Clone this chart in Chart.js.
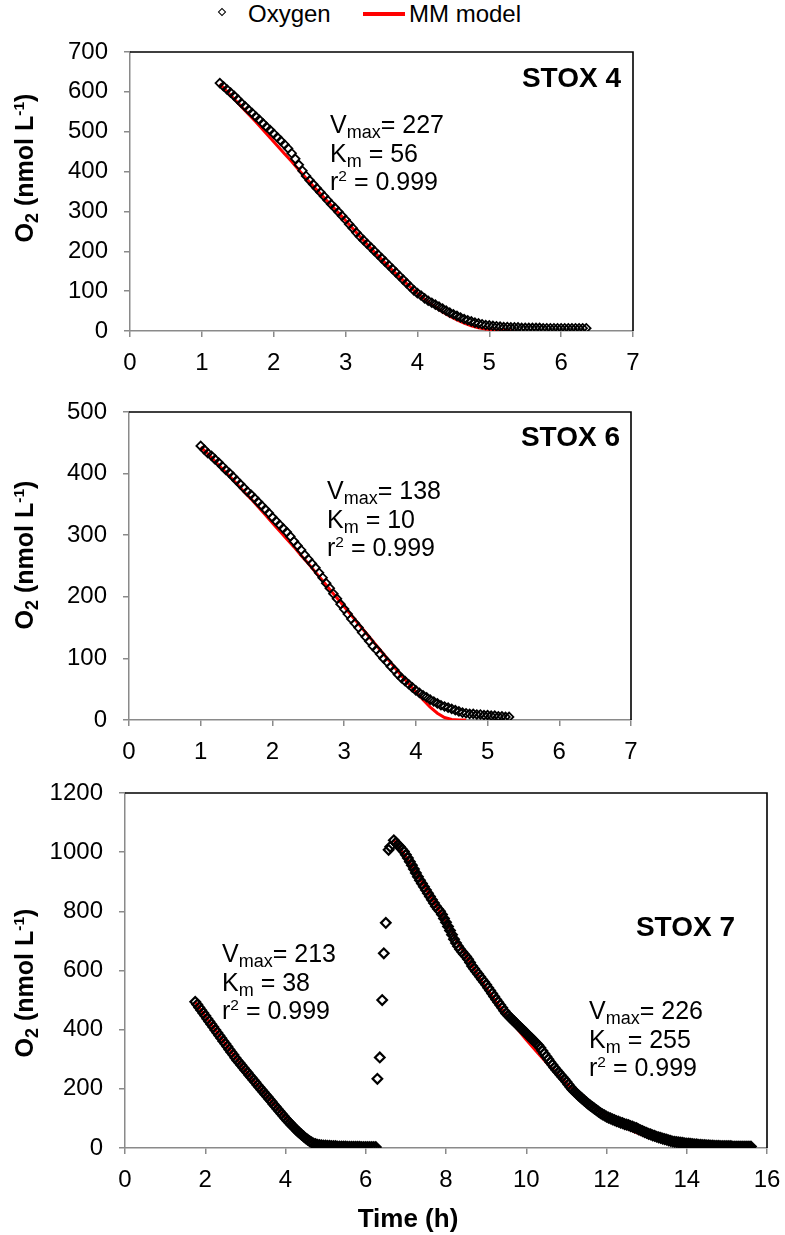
<!DOCTYPE html>
<html>
<head>
<meta charset="utf-8">
<title>STOX oxygen consumption</title>
<script src="https://cdn.jsdelivr.net/npm/chart.js@4.4.1/dist/chart.umd.min.js"></script>
<style>
  html, body { margin: 0; padding: 0; background: #fff; }
  #page { position: relative; width: 785px; height: 1235px; overflow: hidden;
          font-family: 'Liberation Sans', Arial, sans-serif; color: #000; }
  canvas { position: absolute; left: 0; }
  .txt { position: absolute; white-space: nowrap; }
  .ann { font-size: 25px; line-height: 28.5px; }
  .ann sub, .ytitle sub { font-size: .72em; vertical-align: baseline; position: relative; top: .3em; line-height: 0; }
  .ann sup, .ytitle sup { font-size: .62em; vertical-align: baseline; position: relative; top: -.55em; line-height: 0; }
  .stox { font-size: 28px; font-weight: bold; line-height: 32px; text-align: right; }
  .ytitle { font-size: 25px; font-weight: bold; width: 300px; height: 26px; line-height: 26px;
            text-align: center; transform: rotate(-90deg); }
  .legend { font-size: 24px; line-height: 27px; }
  .diamond { position: absolute; width: 4px; height: 4px; border: 1.6px solid #000; transform: rotate(45deg); }
  .redline { position: absolute; height: 4px; background: #ff0000; }
</style>
</head>
<body>
<div id="page">
  <canvas id="c1" width="660" height="350" style="top:30px"></canvas>
  <canvas id="c2" width="660" height="370" style="top:390px"></canvas>
  <canvas id="c3" width="785" height="465" style="top:770px"></canvas>

  <!-- legende -->
  <div class="diamond" style="left:219px; top:9px"></div>
  <div class="txt legend" style="left:248px; top:0px">Oxygen</div>
  <div class="redline" style="left:363px; top:12px; width:42px"></div>
  <div class="txt legend" style="left:409px; top:0px">MM model</div>

  <!-- titres des axes -->
  <div class="txt ytitle" style="left:-126px; top:155px">O<sub>2</sub> (nmol L<sup>-1</sup>)</div>
  <div class="txt ytitle" style="left:-126px; top:542px">O<sub>2</sub> (nmol L<sup>-1</sup>)</div>
  <div class="txt ytitle" style="left:-126px; top:970px">O<sub>2</sub> (nmol L<sup>-1</sup>)</div>
  <div class="txt" style="left:308px; top:1204px; width:200px; text-align:center; font-size:26px; line-height:29px; font-weight:bold">Time (h)</div>

  <!-- panneaux -->
  <div class="txt stox" style="right:164px; top:62px">STOX 4</div>
  <div class="txt stox" style="right:165px; top:421px">STOX 6</div>
  <div class="txt stox" style="right:50px; top:911px">STOX 7</div>

  <!-- parametres du modele -->
  <div class="txt ann" style="left:330px; top:110px">V<sub>max</sub>= 227<br>K<sub>m</sub> = 56<br>r<sup>2</sup> = 0.999</div>
  <div class="txt ann" style="left:327px; top:476px">V<sub>max</sub>= 138<br>K<sub>m</sub> = 10<br>r<sup>2</sup> = 0.999</div>
  <div class="txt ann" style="left:222px; top:939px">V<sub>max</sub>= 213<br>K<sub>m</sub> = 38<br>r<sup>2</sup> = 0.999</div>
  <div class="txt ann" style="left:589px; top:996px">V<sub>max</sub>= 226<br>K<sub>m</sub> = 255<br>r<sup>2</sup> = 0.999</div>
</div>

<script>
// ---- STOX 4 ----
const stox4Time = [
  1.25,1.30,1.35,1.40,1.45,1.50,1.55,1.60,1.65,1.70,
  1.75,1.80,1.85,1.90,1.95,2.00,2.05,2.10,2.15,2.20,
  2.25,2.30,2.35,2.40,2.45,2.50,2.55,2.60,2.65,2.70,
  2.75,2.80,2.85,2.90,2.95,3.00,3.05,3.10,3.15,3.20,
  3.25,3.30,3.35,3.40,3.45,3.50,3.55,3.60,3.65,3.70,
  3.75,3.80,3.85,3.90,3.95,4.00,4.05,4.10,4.15,4.20,
  4.25,4.30,4.35,4.40,4.45,4.50,4.55,4.60,4.65,4.70,
  4.75,4.80,4.85,4.90,4.95,5.00,5.05,5.10,5.15,5.20,
  5.25,5.30,5.35,5.40,5.45,5.50,5.55,5.60,5.65,5.70,
  5.75,5.80,5.85,5.90,5.95,6.00,6.05,6.10,6.15,6.20,
  6.25,6.30,6.35
];
const stox4O2 = [
  622,614,606,598,590,581,572,564,555,547,
  538,530,521,512,504,495,486,477,468,458,
  446,432,417,402,389,378,368,358,348,338,
  328,318,309,299,289,279,268,258,247,237,
  228,219,210,201,192,183,174,165,156,147,
  138,129,120,111,102,95,89,82,76,71,
  66,61,56,51,46,42,38,34,30,27,
  24,21,19,17,15,14,13,12,11,10,
  10,9,9,9,8,8,8,8,8,8,
  7,7,7,7,7,7,7,7,7,7,
  7,7,7
];
const stox4ModelTime = [
  1.25,1.35,1.45,1.55,1.65,1.75,1.85,1.95,2.05,2.15,
  2.25,2.35,2.45,2.55,2.65,2.75,2.85,2.95,3.05,3.15,
  3.25,3.35,3.45,3.55,3.65,3.75,3.85,3.95,4.05,4.15,
  4.25,4.35,4.45,4.55,4.65,4.75,4.85,4.95,5.05,5.15,
  5.25,5.35
];
const stox4Model = [
  620,601,582,563,544,525,505,485,465,445,
  425,404,383,363,344,325,306,287,267,247,
  227,208,189,171,153,136,119,102,87,73,
  60,48,37,28,20,13,8,5,3,2,
  1,0
];

// ---- STOX 6 ----
const stox6Time = [
  1.00,1.05,1.10,1.15,1.20,1.25,1.30,1.35,1.40,1.45,
  1.50,1.55,1.60,1.65,1.70,1.75,1.80,1.85,1.90,1.95,
  2.00,2.05,2.10,2.15,2.20,2.25,2.30,2.35,2.40,2.45,
  2.50,2.55,2.60,2.65,2.70,2.75,2.80,2.85,2.90,2.95,
  3.00,3.05,3.10,3.15,3.20,3.25,3.30,3.35,3.40,3.45,
  3.50,3.55,3.60,3.65,3.70,3.75,3.80,3.85,3.90,3.95,
  4.00,4.05,4.10,4.15,4.20,4.25,4.30,4.35,4.40,4.45,
  4.50,4.55,4.60,4.65,4.70,4.75,4.80,4.85,4.90,4.95,
  5.00,5.05,5.10,5.15,5.20,5.25,5.30
];
const stox6O2 = [
  445,439,433,429,423,418,412,406,401,395,
  389,383,377,371,366,360,354,348,342,336,
  329,323,317,311,305,298,290,283,276,268,
  261,254,247,239,231,222,214,205,197,188,
  180,172,164,157,150,142,135,128,120,114,
  107,100,94,87,81,74,68,63,58,53,
  48,44,40,37,33,30,27,24,22,20,
  18,16,14,12,11,10,10,9,9,8,
  8,7,7,6,6,5,5
];
const stox6ModelTime = [
  1.0,1.1,1.2,1.3,1.4,1.5,1.6,1.7,1.8,1.9,
  2.0,2.1,2.2,2.3,2.4,2.5,2.6,2.7,2.8,2.9,
  3.0,3.1,3.2,3.3,3.4,3.5,3.6,3.7,3.8,3.9,
  4.0,4.1,4.2,4.3,4.4,4.5,4.6,4.7
];
const stox6Model = [
  443,432,420,408,396,384,371,359,346,333,
  320,307,294,281,267,254,240,226,212,198,
  184,170,156,142,128,114,100,86,72,59,
  46,33,21,11,4,1,0,0
];

// ---- STOX 7 (deux incubations) ----
const stox7Time = [
  1.75,1.80,1.85,1.90,1.95,2.00,2.05,2.10,2.15,2.20,
  2.25,2.30,2.35,2.40,2.45,2.50,2.55,2.60,2.65,2.70,
  2.75,2.80,2.85,2.90,2.95,3.00,3.05,3.10,3.15,3.20,
  3.25,3.30,3.35,3.40,3.45,3.50,3.55,3.60,3.65,3.70,
  3.75,3.80,3.85,3.90,3.95,4.00,4.05,4.10,4.15,4.20,
  4.25,4.30,4.35,4.40,4.45,4.50,4.55,4.60,4.65,4.70,
  4.75,4.80,4.85,4.90,4.95,5.00,5.05,5.10,5.15,5.20,
  5.25,5.30,5.35,5.40,5.45,5.50,5.55,5.60,5.65,5.70,
  5.75,5.80,5.85,5.90,5.95,6.00,6.05,6.10,6.15,6.20,
  6.25,
  6.29,6.35,6.41,6.45,6.50,6.57,6.61,
  6.70,6.75,6.80,6.85,6.90,6.95,7.00,7.05,7.10,7.15,
  7.20,7.25,7.30,7.35,7.40,7.45,7.50,7.55,7.60,7.65,
  7.70,7.75,7.80,7.85,7.90,7.95,8.00,8.05,8.10,8.15,
  8.20,8.25,8.30,8.35,8.40,8.45,8.50,8.55,8.60,8.65,
  8.70,8.75,8.80,8.85,8.90,8.95,9.00,9.05,9.10,9.15,
  9.20,9.25,9.30,9.35,9.40,9.45,9.50,9.55,9.60,9.65,
  9.70,9.75,9.80,9.85,9.90,9.95,10.00,10.05,10.10,10.15,
  10.20,10.25,10.30,10.35,10.40,10.45,10.50,10.55,10.60,10.65,
  10.70,10.75,10.80,10.85,10.90,10.95,11.00,11.05,11.10,11.15,
  11.20,11.25,11.30,11.35,11.40,11.45,11.50,11.55,11.60,11.65,
  11.70,11.75,11.80,11.85,11.90,11.95,12.00,12.05,12.10,12.15,
  12.20,12.25,12.30,12.35,12.40,12.45,12.50,12.55,12.60,12.65,
  12.70,12.75,12.80,12.85,12.90,12.95,13.00,13.05,13.10,13.15,
  13.20,13.25,13.30,13.35,13.40,13.45,13.50,13.55,13.60,13.65,
  13.70,13.75,13.80,13.85,13.90,13.95,14.00,14.05,14.10,14.15,
  14.20,14.25,14.30,14.35,14.40,14.45,14.50,14.55,14.60,14.65,
  14.70,14.75,14.80,14.85,14.90,14.95,15.00,15.05,15.10,15.15,
  15.20,15.25,15.30,15.35,15.40,15.45,15.50,15.55,15.60
];
const stox7O2 = [
  494,485,475,466,456,447,437,428,418,409,
  399,390,380,371,361,352,343,333,324,315,
  305,296,288,280,271,263,255,246,238,230,
  222,213,205,197,189,181,173,165,157,148,
  140,132,124,116,108,100,92,85,78,71,
  64,57,51,45,39,33,28,23,19,15,
  13,11,10,9,8,8,7,7,6,6,
  6,5,5,5,5,5,4,4,4,4,
  4,4,4,3,3,3,3,3,3,3,
  3,
  234,306,500,658,761,1008,1018,
  1040,1032,1025,1018,1010,1002,991,980,968,956,
  943,930,917,905,894,883,872,861,850,839,
  828,817,808,800,789,776,763,749,735,721,
  706,693,682,672,663,655,647,638,627,615,
  606,597,588,579,570,561,552,542,532,522,
  512,502,493,483,474,464,455,448,441,434,
  428,421,414,408,401,394,388,381,374,368,
  361,354,347,339,329,319,309,300,290,281,
  272,264,256,248,240,232,224,215,206,198,
  191,185,178,172,166,160,154,148,143,138,
  133,128,123,118,114,110,106,103,100,97,
  94,91,89,86,84,81,79,77,74,72,
  69,67,63,60,57,54,51,48,46,43,
  41,38,36,34,32,30,28,26,24,22,
  21,20,19,18,17,16,15,15,14,13,
  12,12,11,11,10,10,9,9,8,8,
  7,7,7,6,6,6,6,6,6,5,
  5,5,5,5,5,5,5,5,5
];
const stox7ModelTime = [
  1.75,2.00,2.25,2.50,2.75,3.00,3.25,3.50,3.75,4.00,4.25,4.50,4.75,5.00,5.25,5.50,
  6.00,
  6.70,7.00,7.25,7.50,7.75,8.00,8.25,8.50,8.75,9.00,
  9.25,9.50,9.75,10.00,10.25,10.50,10.75,11.00,11.25,11.50,
  11.75,12.00,12.25,12.50,12.75,13.00,13.25,13.50,13.75,14.00,
  14.50,15.00,15.50
];
const stox7Model = [
  493,446,399,352,306,262,221,181,141,101,64,33,13,4,1,0,
  null,
  1040,985,932,876,820,764,706,649,594,541,
  495,450,407,366,327,289,253,219,187,157,
  130,106,85,67,52,39,29,21,15,10,
  5,2,1
];

// ---- axes ----
const stox4Ticks = { x: [0, 7, 1], y: [0, 700, 100] };
const stox6Ticks = { x: [0, 7, 1], y: [0, 500, 100] };
const stox7Ticks = { x: [0, 16, 2], y: [0, 1200, 200] };

const GREY = '#8a8a8a';
Chart.defaults.font.family = "'Liberation Sans', Arial, sans-serif";
Chart.defaults.color = '#000';

// cadre noir en haut et a droite (comme Excel)
const cadre = {
  id: 'cadre',
  afterDraw(chart) {
    const a = chart.chartArea;
    const ctx = chart.ctx;
    ctx.save();
    ctx.strokeStyle = '#000';
    ctx.lineWidth = 1.6;
    ctx.beginPath();
    ctx.moveTo(a.left, a.top);
    ctx.lineTo(a.right, a.top);
    ctx.lineTo(a.right, a.bottom);
    ctx.stroke();
    ctx.restore();
  }
};

function pares(t, v) {
  return t.map((x, i) => ({ x: x, y: v[i] }));
}

function graficar(id, t, o2, tm, mod, ticks, yW, pad, marca) {
  return new Chart(document.getElementById(id), {
    type: 'scatter',
    data: {
      datasets: [
        {
          label: 'Oxygen',
          data: pares(t, o2),
          pointStyle: 'rectRot',
          pointRadius: marca.r,
          borderColor: '#000',
          backgroundColor: 'rgba(0,0,0,0)',
          borderWidth: marca.w,
          showLine: false,
          order: 0
        },
        {
          label: 'MM model',
          data: pares(tm, mod),
          showLine: true,
          spanGaps: false,
          borderColor: '#ff0000',
          borderWidth: 3,
          pointRadius: 0,
          order: 1
        }
      ]
    },
    options: {
      responsive: false,
      animation: false,
      devicePixelRatio: 1,
      layout: { padding: pad },
      plugins: { legend: { display: false }, tooltip: { enabled: false } },
      scales: {
        x: {
          type: 'linear',
          min: ticks.x[0], max: ticks.x[1],
          ticks: { stepSize: ticks.x[2], font: { size: 24 }, padding: 12, color: '#000',
                   callback: v => String(v) },
          grid: { drawOnChartArea: false, drawTicks: true, tickLength: 6, color: GREY, lineWidth: 1.5 },
          border: { color: GREY, width: 1.5 },
          afterFit(s) { s.height = 40; s.paddingLeft = 0; s.paddingRight = 0; }
        },
        y: {
          min: ticks.y[0], max: ticks.y[1],
          ticks: { stepSize: ticks.y[2], font: { size: 24 }, padding: 16, color: '#000',
                   callback: v => String(v) },
          grid: { drawOnChartArea: false, drawTicks: true, tickLength: 6, color: GREY, lineWidth: 1.5 },
          border: { color: GREY, width: 1.5 },
          afterFit(s) { s.width = yW; s.paddingTop = 0; s.paddingBottom = 0; }
        }
      }
    },
    plugins: [cadre]
  });
}

graficar('c1', stox4Time, stox4O2, stox4ModelTime, stox4Model, stox4Ticks, 130,
         { left: 0, top: 22, right: 27, bottom: 9 }, { r: 4.3, w: 1.8 });
graficar('c2', stox6Time, stox6O2, stox6ModelTime, stox6Model, stox6Ticks, 129,
         { left: 0, top: 22, right: 29, bottom: 0 }, { r: 4.3, w: 1.8 });
graficar('c3', stox7Time, stox7O2, stox7ModelTime, stox7Model, stox7Ticks, 125,
         { left: 0, top: 23, right: 18, bottom: 47 }, { r: 4.8, w: 2.2 });
</script>
</body>
</html>
